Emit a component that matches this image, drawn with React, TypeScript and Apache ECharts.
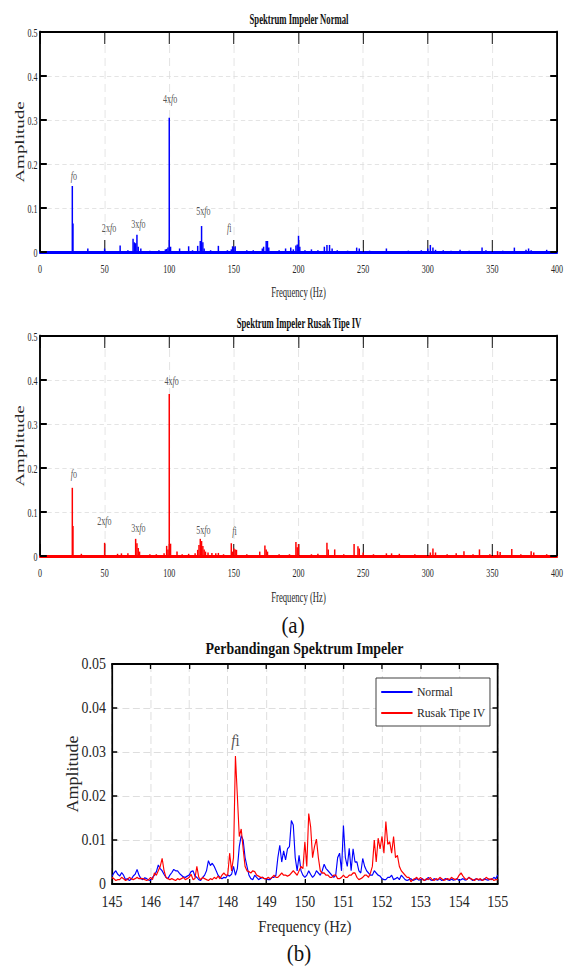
import React, { useEffect, useRef } from "react";
import * as echarts from "echarts";

// ---------------- data ----------------
// Spectrum peaks: [frequency Hz, amplitude]
const normalPeaks: [number, number][] = [
  [25, 0.15], [25.5, 0.065], [37, 0.008], [50, 0.008], [62, 0.015], [68, 0.004],
  [72, 0.03], [73, 0.022], [74, 0.02], [75, 0.039], [76, 0.012], [78, 0.008],
  [85, 0.003], [92, 0.004], [97, 0.006], [98, 0.007], [99, 0.01], [100, 0.305],
  [101, 0.012], [108, 0.008], [115, 0.013], [118, 0.004], [122, 0.014], [124, 0.025],
  [125, 0.059], [126, 0.022], [127, 0.008], [132, 0.004], [138, 0.014], [145, 0.004],
  [148, 0.006], [149, 0.013], [150, 0.011], [151, 0.013], [160, 0.004], [165, 0.004],
  [172, 0.008], [173, 0.012], [175, 0.025], [176, 0.025], [177, 0.01], [185, 0.004],
  [190, 0.008], [194, 0.01], [196, 0.006], [198, 0.015], [199, 0.017], [200, 0.037],
  [201, 0.012], [205, 0.004], [210, 0.006], [215, 0.004], [220, 0.012], [222, 0.016],
  [224, 0.016], [226, 0.008], [230, 0.004], [238, 0.003], [245, 0.01], [247, 0.008],
  [255, 0.003], [268, 0.008], [285, 0.003], [295, 0.004], [300, 0.008], [302, 0.016],
  [304, 0.01], [306, 0.005], [312, 0.004], [318, 0.003], [325, 0.005], [332, 0.003],
  [342, 0.01], [345, 0.004], [358, 0.003], [367, 0.01], [376, 0.005], [378, 0.008],
  [380, 0.004], [392, 0.005],
];

const rusakPeaks: [number, number][] = [
  [25, 0.155], [25.5, 0.068], [32, 0.005], [50, 0.03], [60, 0.005], [63, 0.006],
  [68, 0.006], [74, 0.039], [75, 0.029], [76, 0.018], [77, 0.01], [85, 0.004],
  [90, 0.004], [96, 0.006], [98, 0.023], [99, 0.015], [100, 0.368], [101, 0.028],
  [106, 0.01], [110, 0.004], [115, 0.005], [120, 0.006], [122, 0.014], [123, 0.025],
  [124, 0.039], [125, 0.034], [126, 0.023], [127, 0.015], [128, 0.01], [130, 0.008],
  [133, 0.007], [136, 0.006], [138, 0.007], [142, 0.004], [148, 0.029], [149, 0.01],
  [150, 0.017], [151, 0.015], [152, 0.014], [160, 0.004], [170, 0.01], [174, 0.024],
  [175, 0.015], [176, 0.01], [185, 0.004], [193, 0.004], [198, 0.032], [199, 0.02],
  [200, 0.027], [210, 0.004], [215, 0.005], [222, 0.03], [223, 0.015], [228, 0.015],
  [235, 0.004], [243, 0.027], [246, 0.022], [247, 0.017], [250, 0.008], [258, 0.004],
  [268, 0.006], [272, 0.006], [278, 0.005], [290, 0.004], [302, 0.008], [304, 0.017],
  [306, 0.008], [315, 0.004], [322, 0.006], [328, 0.011], [335, 0.004], [340, 0.015],
  [348, 0.004], [354, 0.011], [356, 0.009], [365, 0.016], [372, 0.004], [380, 0.011],
  [382, 0.008], [392, 0.004],
];

// annotation labels: rich text, frequency, amplitude where the label sits
const normalLabels = [
  { text: "{i|f}{n|o}", hz: 26.3, amp: 0.175 },
  { text: "{n|2x}{i|f}{n|o}", hz: 53.4, amp: 0.0575 },
  { text: "{n|3x}{i|f}{n|o}", hz: 76.1, amp: 0.066 },
  { text: "{n|4x}{i|f}{n|o}", hz: 100.6, amp: 0.35 },
  { text: "{n|5x}{i|f}{n|o}", hz: 126.4, amp: 0.095 },
  { text: "{i|f}{n|i}", hz: 146.5, amp: 0.0575 },
];
const rusakLabels = [
  { text: "{i|f}{n|o}", hz: 26.3, amp: 0.189 },
  { text: "{n|2x}{i|f}{n|o}", hz: 49.8, amp: 0.082 },
  { text: "{n|3x}{i|f}{n|o}", hz: 76.1, amp: 0.065 },
  { text: "{n|4x}{i|f}{n|o}", hz: 101.9, amp: 0.4 },
  { text: "{n|5x}{i|f}{n|o}", hz: 126.4, amp: 0.061 },
  { text: "{i|f}{n|i}", hz: 150.4, amp: 0.059 },
];

// zoomed comparison 145..155 Hz, one value every 0.05 Hz
const zoomStartHz = 145;
const zoomStepHz = 0.05;
const normalZoom = [
  0.0017, 0.0025, 0.003, 0.0022, 0.0018, 0.0026, 0.002, 0.001, 0.0012, 0.0008, 0.0011, 0.0018, 0.0022, 0.0033, 0.002, 0.0012, 0.001, 0.0014, 0.0012, 0.0009,
  0.0008, 0.0015, 0.002, 0.0028, 0.0043, 0.0035, 0.003, 0.0022, 0.0015, 0.0012, 0.002, 0.0026, 0.0033, 0.003, 0.003, 0.0024, 0.002, 0.0016, 0.0015, 0.0018,
  0.002, 0.0028, 0.003, 0.0018, 0.0015, 0.001, 0.0008, 0.0015, 0.002, 0.003, 0.0053, 0.0042, 0.0047, 0.004, 0.003, 0.002, 0.0015, 0.0012, 0.0015, 0.0014,
  0.002, 0.0018, 0.0022, 0.004, 0.002, 0.0035, 0.0085, 0.011, 0.01, 0.006, 0.004, 0.002, 0.0012, 0.001, 0.002, 0.0015, 0.001, 0.0013, 0.0015, 0.0012,
  0.0012, 0.001, 0.001, 0.0015, 0.0015, 0.002, 0.006, 0.0088, 0.005, 0.0075, 0.0055, 0.008, 0.0085, 0.0144, 0.0134, 0.006, 0.003, 0.0065, 0.003, 0.002,
  0.0015, 0.002, 0.003, 0.0022, 0.0015, 0.002, 0.003, 0.0025, 0.002, 0.003, 0.0045, 0.0035, 0.003, 0.0025, 0.002, 0.0015, 0.002, 0.006, 0.007, 0.003,
  0.0133, 0.006, 0.004, 0.0081, 0.003, 0.008, 0.005, 0.005, 0.003, 0.0025, 0.0058, 0.004, 0.003, 0.0025, 0.002, 0.002, 0.003, 0.0025, 0.002, 0.0018,
  0.0012, 0.001, 0.001, 0.0015, 0.0015, 0.002, 0.001, 0.0012, 0.0015, 0.001, 0.002, 0.0015, 0.001, 0.0008, 0.001, 0.0012, 0.0008, 0.001, 0.0012, 0.0009,
  0.001, 0.0012, 0.0008, 0.001, 0.0015, 0.001, 0.0008, 0.0012, 0.001, 0.0009, 0.0012, 0.0008, 0.001, 0.0012, 0.001, 0.0008, 0.0011, 0.0009, 0.001, 0.0012,
  0.0008, 0.001, 0.0012, 0.0009, 0.001, 0.0015, 0.0012, 0.0008, 0.001, 0.0012, 0.0009, 0.001, 0.0008, 0.0012, 0.001, 0.0009, 0.0011, 0.001, 0.0015, 0.0012,
  0.002,
];
const rusakZoom = [
  0.0015, 0.0012, 0.0008, 0.001, 0.001, 0.0015, 0.0012, 0.0008, 0.001, 0.0015, 0.0012, 0.001, 0.0012, 0.0015, 0.0012, 0.0013, 0.0012, 0.001, 0.0008, 0.001,
  0.0015, 0.001, 0.0025, 0.002, 0.003, 0.004, 0.0058, 0.003, 0.0015, 0.0012, 0.001, 0.0012, 0.001, 0.0008, 0.0012, 0.001, 0.0012, 0.0015, 0.001, 0.0012,
  0.0015, 0.0022, 0.001, 0.0012, 0.004, 0.0015, 0.001, 0.0015, 0.0012, 0.001, 0.0008, 0.0012, 0.001, 0.0015, 0.0012, 0.0018, 0.0012, 0.002, 0.0025, 0.002,
  0.002, 0.007, 0.003, 0.006, 0.0291, 0.02, 0.0108, 0.0125, 0.008, 0.004, 0.003, 0.0028, 0.0025, 0.003, 0.0028, 0.002, 0.0018, 0.0015, 0.0015, 0.0012,
  0.0012, 0.0015, 0.0012, 0.0015, 0.002, 0.0015, 0.0015, 0.002, 0.0025, 0.002, 0.002, 0.0018, 0.002, 0.0025, 0.003, 0.0025, 0.002, 0.003, 0.004, 0.0035,
  0.0096, 0.004, 0.016, 0.013, 0.006, 0.0085, 0.0102, 0.006, 0.003, 0.0025, 0.0025, 0.002, 0.002, 0.0015, 0.0015, 0.002, 0.002, 0.0012, 0.0012, 0.0015,
  0.002, 0.0015, 0.0015, 0.002, 0.002, 0.0025, 0.0025, 0.0015, 0.001, 0.0012, 0.0015, 0.002, 0.002, 0.0015, 0.0025, 0.004, 0.01, 0.005, 0.0104, 0.008,
  0.0108, 0.007, 0.0142, 0.009, 0.0096, 0.007, 0.0108, 0.006, 0.0065, 0.004, 0.003, 0.0025, 0.002, 0.0015, 0.0015, 0.0005, 0.001, 0.0012, 0.0015, 0.001,
  0.0015, 0.001, 0.0008, 0.0012, 0.001, 0.0015, 0.001, 0.0008, 0.0012, 0.001, 0.0015, 0.0012, 0.0008, 0.001, 0.0012, 0.001, 0.0015, 0.0012, 0.001, 0.0012,
  0.002, 0.0025, 0.0018, 0.0012, 0.001, 0.0015, 0.0012, 0.001, 0.0008, 0.0012, 0.001, 0.0012, 0.0008, 0.001, 0.0015, 0.0012, 0.001, 0.0012, 0.0008, 0.001,
  0.001,
];
const zoomLabels = [{ text: "{i|f}{n|i}", hz: 148.2, amp: 0.0327 }];

// ---------------- layout / style ----------------
const W = 571;
const S_TOP = 0.62; // horizontal squeeze of panel (a)
const S_BOT = 0.87; // horizontal squeeze of panel (b)
const BOT_TOP = 606;
const SERIF = "'Liberation Serif', 'Times New Roman', Times, serif";
const TXT = "#262626";

function annotationLabel(size: number) {
  return {
    show: true,
    position: [0, 0],
    align: "center",
    verticalAlign: "middle",
    color: TXT,
    fontFamily: SERIF,
    fontSize: size,
    rich: {
      n: { fontFamily: SERIF, fontSize: size, color: TXT },
      i: { fontFamily: SERIF, fontSize: size, color: TXT, fontStyle: "italic" },
    },
  };
}

function topOption() {
  const s = S_TOP;
  const panels = [
    { title: "Spektrum Impeler Normal", titleY: 20, top: 32, color: "#0000ff", peaks: normalPeaks, labels: normalLabels, nameGap: 34 },
    { title: "Spektrum Impeler Rusak Tipe IV", titleY: 324, top: 336, color: "#ff0000", peaks: rusakPeaks, labels: rusakLabels, nameGap: 35 },
  ];
  const grid: any[] = [];
  const xAxis: any[] = [];
  const yAxis: any[] = [];
  const series: any[] = [];
  const graphic: any[] = [];
  panels.forEach((p, gi) => {
    grid.push({ left: 40 / s, right: (W - 557) / s, top: p.top, height: 220 });
    xAxis.push({
      gridIndex: gi, type: "value", min: 0, max: 400, interval: 50, position: "bottom",
      axisLine: { show: true, onZero: false, lineStyle: { color: p.color, width: 3 } },
      axisTick: { show: true, inside: true, length: 12, lineStyle: { color: "#000", width: 1.5 } },
      axisLabel: { color: TXT, fontFamily: SERIF, fontSize: 13, margin: 10 },
      splitLine: { show: true, lineStyle: { color: "#dedede", width: 1, type: [8, 5] } },
      name: "Frequency (Hz)", nameLocation: "middle", nameGap: p.nameGap,
      nameTextStyle: { color: TXT, fontFamily: SERIF, fontSize: 14 },
    });
    xAxis.push({
      gridIndex: gi, type: "value", min: 0, max: 400, interval: 50, position: "top",
      axisLine: { show: true, onZero: false, lineStyle: { color: "#000", width: 2 } },
      axisTick: { show: true, inside: true, length: 12, lineStyle: { color: "#000", width: 1.5 } },
      axisLabel: { show: false }, splitLine: { show: false },
    });
    yAxis.push({
      gridIndex: gi, type: "value", min: 0, max: 0.5, interval: 0.1, position: "left",
      axisLine: { show: true, onZero: false, lineStyle: { color: "#000", width: 3 } },
      axisTick: { show: true, inside: true, length: 11, lineStyle: { color: "#000", width: 2 } },
      axisLabel: { color: TXT, fontFamily: SERIF, fontSize: 13, margin: 4 },
      splitLine: { show: true, lineStyle: { color: "#dedede", width: 1, type: [7, 5] } },
      name: "Amplitude", nameLocation: "middle", nameGap: 23, nameMoveOverlap: false,
      nameTextStyle: { color: TXT, fontFamily: SERIF, fontSize: 19 },
    });
    yAxis.push({
      gridIndex: gi, type: "value", min: 0, max: 0.5, interval: 0.1, position: "right",
      axisLine: { show: true, onZero: false, lineStyle: { color: "#000", width: 3 } },
      axisTick: { show: true, inside: true, length: 11, lineStyle: { color: "#000", width: 2 } },
      axisLabel: { show: false }, splitLine: { show: false },
    });
    series.push({
      type: "bar", name: p.title, xAxisIndex: gi * 2, yAxisIndex: gi * 2,
      data: p.peaks, barWidth: 2.4, itemStyle: { color: p.color }, z: 3, silent: true,
    });
    series.push({
      type: "scatter", xAxisIndex: gi * 2, yAxisIndex: gi * 2, symbolSize: 0, silent: true,
      itemStyle: { color: "transparent" },
      label: annotationLabel(13),
      data: p.labels.map((l) => ({ value: [l.hz, l.amp], label: { formatter: l.text } })),
    });
    graphic.push({
      type: "text", x: 299 / s, y: p.titleY, silent: true,
      style: { text: p.title, fontFamily: SERIF, fontSize: 14, fontWeight: "bold", fill: "#111", align: "center", verticalAlign: "middle" },
    });
  });
  return { animation: false, grid, xAxis, yAxis, series, graphic };
}

function bottomOption() {
  const s = S_BOT;
  const off = BOT_TOP;
  const hz = normalZoom.map((_, i) => +(zoomStartHz + i * zoomStepHz).toFixed(2));
  const gridLine = { show: true, lineStyle: { color: "#dcdcdc", width: 1, type: [8, 4] } };
  return {
    animation: false,
    grid: { left: 112 / s, right: (W - 498) / s, top: 664 - off, height: 220 },
    xAxis: [
      {
        type: "value", min: 145, max: 155, interval: 1, position: "bottom",
        axisLine: { show: true, onZero: false, lineStyle: { color: "#000", width: 2 } },
        axisTick: { show: true, inside: true, length: 5, lineStyle: { color: "#000", width: 1.5 } },
        axisLabel: { color: TXT, fontFamily: SERIF, fontSize: 16, margin: 10 },
        splitLine: gridLine,
        name: "Frequency (Hz)", nameLocation: "middle", nameGap: 34,
        nameTextStyle: { color: TXT, fontFamily: SERIF, fontSize: 17 },
      },
      {
        type: "value", min: 145, max: 155, interval: 1, position: "top",
        axisLine: { show: true, onZero: false, lineStyle: { color: "#000", width: 2 } },
        axisTick: { show: true, inside: true, length: 5, lineStyle: { color: "#000", width: 1.5 } },
        axisLabel: { show: false }, splitLine: { show: false },
      },
    ],
    yAxis: [
      {
        type: "value", min: 0, max: 0.05, interval: 0.01, position: "left",
        axisLine: { show: true, onZero: false, lineStyle: { color: "#000", width: 2 } },
        axisTick: { show: true, inside: true, length: 6, lineStyle: { color: "#000", width: 1.5 } },
        axisLabel: { color: TXT, fontFamily: SERIF, fontSize: 16, margin: 7 },
        splitLine: gridLine,
        name: "Amplitude", nameLocation: "middle", nameGap: 36, nameMoveOverlap: false,
        nameTextStyle: { color: TXT, fontFamily: SERIF, fontSize: 18 },
      },
      {
        type: "value", min: 0, max: 0.05, interval: 0.01, position: "right",
        axisLine: { show: true, onZero: false, lineStyle: { color: "#000", width: 2 } },
        axisTick: { show: true, inside: true, length: 6, lineStyle: { color: "#000", width: 1.5 } },
        axisLabel: { show: false }, splitLine: { show: false },
      },
    ],
    legend: {
      orient: "vertical", left: 376 / s, top: 678 - off,
      data: ["Normal", "Rusak Tipe IV"],
      icon: "rect",
      itemWidth: 36, itemHeight: 2, itemGap: 7,
      padding: [7, 5, 6, 6],
      backgroundColor: "#fff", borderColor: "#333", borderWidth: 1, borderRadius: 0,
      textStyle: { color: TXT, fontFamily: SERIF, fontSize: 13.5 },
    },
    series: [
      {
        type: "line", name: "Normal", xAxisIndex: 0, yAxisIndex: 0, symbol: "none",
        lineStyle: { color: "#0000ff", width: 1.3 }, itemStyle: { color: "#0000ff" },
        data: hz.map((f, i) => [f, normalZoom[i]]), z: 3, silent: true,
      },
      {
        type: "line", name: "Rusak Tipe IV", xAxisIndex: 0, yAxisIndex: 0, symbol: "none",
        lineStyle: { color: "#ff0000", width: 1.3 }, itemStyle: { color: "#ff0000" },
        data: hz.map((f, i) => [f, rusakZoom[i]]), z: 4, silent: true,
      },
      {
        type: "scatter", xAxisIndex: 0, yAxisIndex: 0, symbolSize: 0, silent: true,
        itemStyle: { color: "transparent" },
        label: annotationLabel(17),
        data: zoomLabels.map((l) => ({ value: [l.hz, l.amp], label: { formatter: l.text } })),
      },
    ],
    graphic: [
      {
        type: "text", x: 304.5 / s, y: 649 - off, silent: true,
        style: { text: "Perbandingan Spektrum Impeler", fontFamily: SERIF, fontSize: 16, fontWeight: "bold", fill: "#111", align: "center", verticalAlign: "middle" },
      },
      {
        type: "text", x: 293 / s, y: 625 - off, silent: true,
        style: { text: "(a)", fontFamily: SERIF, fontSize: 24, fill: "#111", align: "center", verticalAlign: "middle" },
      },
      {
        type: "text", x: 299 / s, y: 953 - off, silent: true,
        style: { text: "(b)", fontFamily: SERIF, fontSize: 24, fill: "#111", align: "center", verticalAlign: "middle" },
      },
    ],
  };
}

export default function App() {
  const topRef = useRef<HTMLDivElement>(null);
  const botRef = useRef<HTMLDivElement>(null);
  useEffect(() => {
    const top = echarts.init(topRef.current!, null, { renderer: "svg" });
    top.setOption(topOption() as any);
    const bot = echarts.init(botRef.current!, null, { renderer: "svg" });
    bot.setOption(bottomOption() as any);
    return () => {
      top.dispose();
      bot.dispose();
    };
  }, []);
  return (
    <div style={{ position: "absolute", left: 0, top: 0, width: W, height: 968, overflow: "hidden", background: "#fff" }}>
      <div
        ref={topRef}
        style={{ position: "absolute", left: 0, top: 0, width: Math.round(W / S_TOP), height: 612, transform: `scaleX(${S_TOP})`, transformOrigin: "0 0" }}
      />
      <div
        ref={botRef}
        style={{ position: "absolute", left: 0, top: BOT_TOP, width: Math.round(W / S_BOT), height: 968 - BOT_TOP, transform: `scaleX(${S_BOT})`, transformOrigin: "0 0" }}
      />
    </div>
  );
}
